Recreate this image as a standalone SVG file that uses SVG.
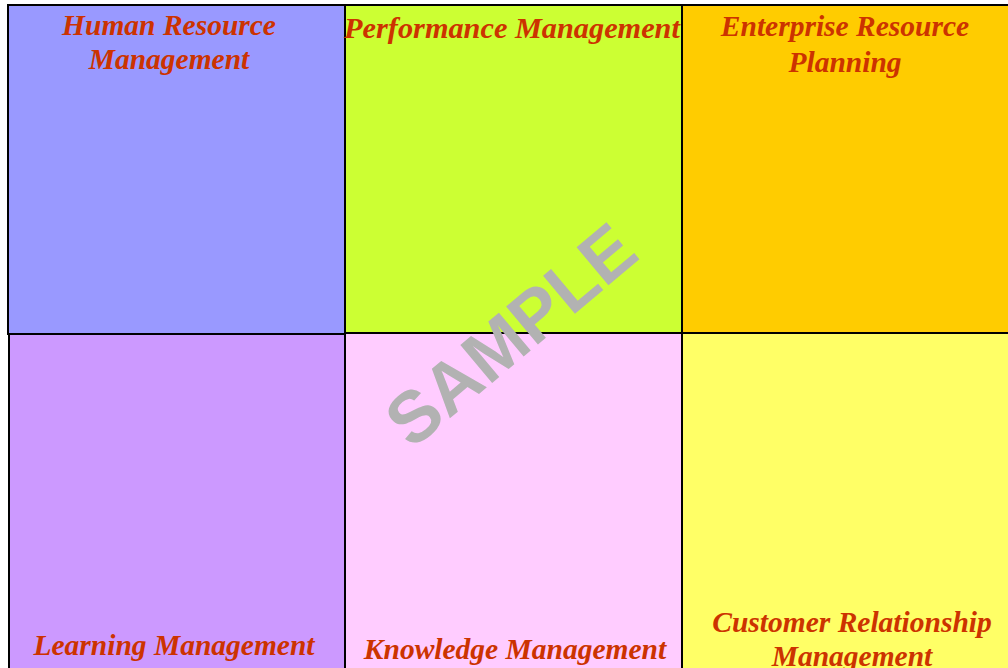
<svg xmlns="http://www.w3.org/2000/svg" width="1008" height="668" viewBox="0 0 1008 668">
  <style>
    .box { stroke: #000; stroke-width: 2; }
    .label { font-family: "Liberation Serif", "Times New Roman", serif; font-weight: bold; font-style: italic; font-size: 29.5px; fill: #cc3300; text-anchor: middle; }
    .mark { font-family: "Liberation Sans", Arial, sans-serif; font-weight: bold; fill: #b2b2b2; text-anchor: middle; }
  </style>
  <rect width="1008" height="668" fill="#ffffff"/>

  <g id="hrm">
    <rect class="box" x="8" y="5" width="337" height="329" fill="#9999ff"/>
    <text class="label" x="169" y="35">Human Resource</text>
    <text class="label" x="169" y="68.5">Management</text>
  </g>

  <g id="performance">
    <rect class="box" x="345" y="5" width="337" height="328" fill="#ccff33"/>
    <text class="label" x="512" y="38" style="font-size:30.3px">Performance Management</text>
  </g>

  <g id="erp">
    <rect class="box" x="682" y="5" width="330" height="328" fill="#ffcc00"/>
    <text class="label" x="845" y="36">Enterprise Resource</text>
    <text class="label" x="845" y="72">Planning</text>
  </g>

  <g id="learning">
    <rect class="box" x="9" y="334" width="336" height="340" fill="#cc99ff"/>
    <text class="label" x="174" y="655">Learning Management</text>
  </g>

  <g id="knowledge">
    <rect class="box" x="345" y="333" width="337" height="341" fill="#ffccff"/>
    <text class="label" x="515" y="659">Knowledge Management</text>
  </g>

  <g id="crm">
    <rect class="box" x="682" y="333" width="330" height="341" fill="#ffff66"/>
    <text class="label" x="852" y="632">Customer Relationship</text>
    <text class="label" x="852" y="666">Management</text>
  </g>

  <g id="connectors"></g>

  <!-- watermark across the middle -->
  <text class="mark" x="0" y="26" font-size="72" transform="translate(510 334) rotate(-40)">SAMPLE</text>
</svg>
